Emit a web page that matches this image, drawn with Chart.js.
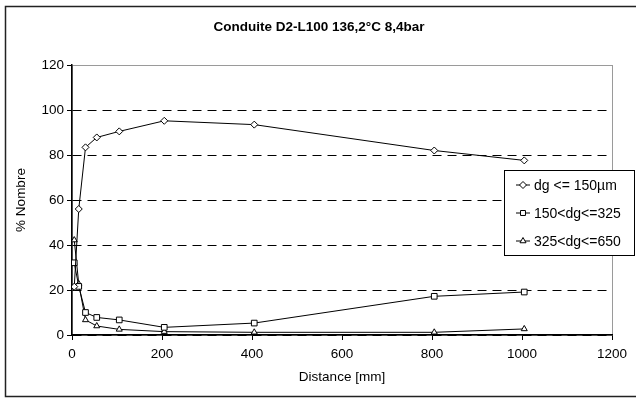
<!DOCTYPE html>
<html>
<head>
<meta charset="utf-8">
<script src="https://cdn.jsdelivr.net/npm/chart.js@4.4.0/dist/chart.umd.min.js"></script>
<style>
  html, body { margin: 0; padding: 0; background: #fff; }
</style>
</head>
<body>
<canvas id="chart" width="636" height="399"></canvas>
<script>
const chartTitle = 'Conduite D2-L100 136,2\u00B0C 8,4bar';
const xAxisTitle = 'Distance [mm]';
const yAxisTitle = '% Nombre';

const distances = [5, 15, 30, 55, 105, 205, 405, 805, 1005];
const seriesLabels = ['dg <= 150\u00B5m', '150<dg<=325', '325<dg<=650'];
const fineValues = [21.5, 56, 83.4, 87.8, 90.5, 95.2, 93.5, 82, 77.6];
const mediumValues = [32.1, 21.6, 10, 7.8, 6.7, 3.4, 5.3, 17.2, 19.1];
const coarseValues = [42.2, 22.7, 6.7, 4, 2.5, 1.5, 1.2, 1.2, 2.7];
const pointStyles = ['rectRot', 'rect', 'triangle'];

const FONT = '"Liberation Sans", Arial, sans-serif';
Chart.defaults.font.family = FONT;
Chart.defaults.font.size = 13.5;
Chart.defaults.color = '#000';

function makeDataset(label, values, style) {
    return {
        label: label,
        data: values.map((v, i) => ({ x: distances[i], y: v })),
        borderColor: '#000',
        borderWidth: 1,
        backgroundColor: '#fff',
        pointStyle: style,
        pointRadius: style === 'rect' ? 4 : 3.5,
        pointBorderWidth: 1,
        pointBackgroundColor: '#fff',
        pointBorderColor: '#000',
        tension: 0
    };
}

// frame, plot border, title and the boxed legend inside the plot
const decorPlugin = {
    id: 'decor',
    beforeDraw(chart) {
        const { ctx, chartArea: a } = chart;
        ctx.save();
        ctx.fillStyle = '#fff';
        ctx.fillRect(0, 0, chart.width, chart.height);
        ctx.strokeStyle = '#9a9a9a';
        ctx.lineWidth = 1;
        ctx.strokeRect(a.left + 0.5, a.top + 0.5, a.right - a.left, a.bottom - a.top);
        ctx.restore();
    },
    afterDraw(chart) {
        const { ctx } = chart;
        ctx.save();
        ctx.strokeStyle = '#222';
        ctx.lineWidth = 1.5;
        ctx.strokeRect(5.5, 6.5, 700, 390);

        ctx.fillStyle = '#000';
        ctx.font = 'bold 13.5px ' + FONT;
        ctx.textAlign = 'center';
        ctx.textBaseline = 'middle';
        ctx.fillText(chartTitle, 319, 27);

        const box = { x: 504.5, y: 170.5, w: 130, h: 85 };
        ctx.fillStyle = '#fff';
        ctx.fillRect(box.x, box.y, box.w, box.h);
        ctx.strokeStyle = '#000';
        ctx.lineWidth = 1;
        ctx.strokeRect(box.x, box.y, box.w, box.h);

        ctx.font = '14px ' + FONT;
        ctx.textAlign = 'left';
        chart.data.datasets.forEach((ds, i) => {
            const y = 185 + i * 28;
            ctx.strokeStyle = '#000';
            ctx.lineWidth = 1;
            ctx.beginPath();
            ctx.moveTo(516, y);
            ctx.lineTo(530, y);
            ctx.stroke();
            ctx.fillStyle = '#fff';
            Chart.helpers.drawPoint(ctx, {
                pointStyle: ds.pointStyle, radius: 3.5, rotation: 0, borderWidth: 1
            }, 523, y);
            ctx.fillStyle = '#000';
            ctx.fillText(ds.label, 534, y + 1);
        });
        ctx.restore();
    }
};

new Chart(document.getElementById('chart'), {
    type: 'line',
    data: {
        datasets: [
            makeDataset(seriesLabels[0], fineValues, pointStyles[0]),
            makeDataset(seriesLabels[1], mediumValues, pointStyles[1]),
            makeDataset(seriesLabels[2], coarseValues, pointStyles[2])
        ]
    },
    options: {
        responsive: false,
        animation: false,
        layout: { padding: { top: 65, right: 24, left: 0, bottom: 0 } },
        plugins: {
            legend: { display: false },
            title: { display: false },
            tooltip: { enabled: false }
        },
        scales: {
            x: {
                type: 'linear',
                min: 0,
                max: 1200,
                ticks: { stepSize: 200, padding: 6, maxRotation: 0, callback: v => String(v) },
                grid: { drawOnChartArea: false, tickColor: '#000', tickLength: 5 },
                border: { color: '#000', width: 1.5 },
                title: { display: true, text: xAxisTitle, padding: { top: 0, bottom: 14 } },
                afterFit(scale) { scale.height = 64; }
            },
            y: {
                min: 0,
                max: 120,
                ticks: { stepSize: 20, padding: 3 },
                grid: {
                    color: c => (c.tick && c.tick.value === 120) ? 'rgba(0,0,0,0)' : '#000',
                    tickColor: '#000',
                    tickLength: 5,
                    lineWidth: 1
                },
                border: { color: '#000', width: 1.5, dash: [9, 6] },
                title: { display: true, text: yAxisTitle, padding: { top: 13, bottom: 0 } },
                afterFit(scale) { scale.width = 72; }
            }
        }
    },
    plugins: [decorPlugin]
});
</script>
</body>
</html>
